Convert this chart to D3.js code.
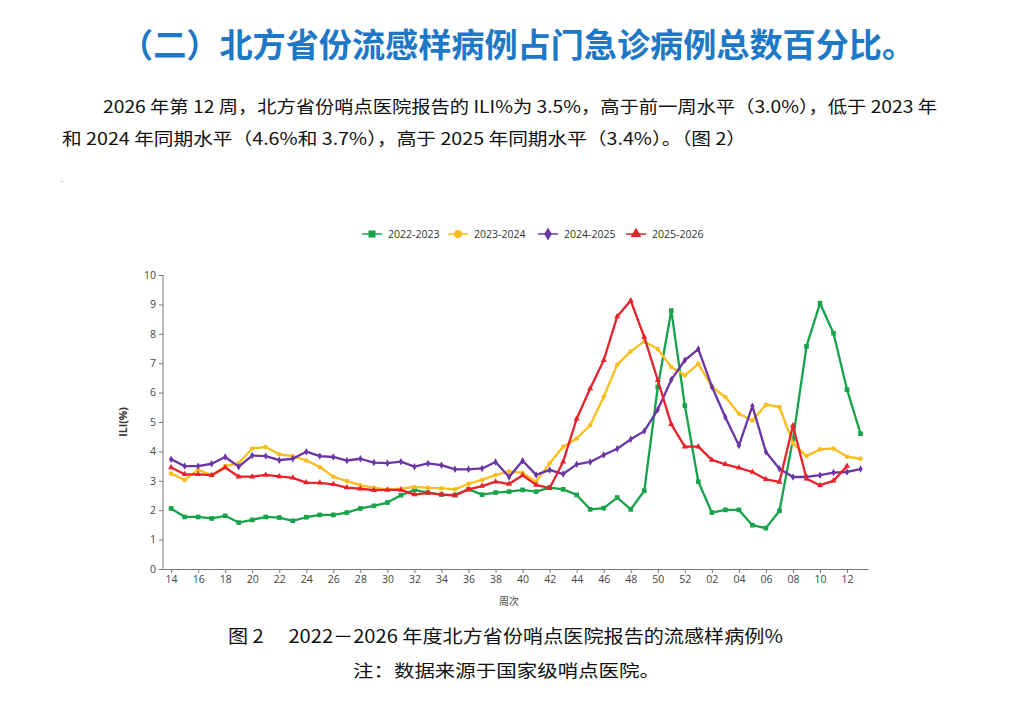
<!DOCTYPE html>
<html>
<head>
<meta charset="utf-8">
<script src="https://cdn.jsdelivr.net/npm/d3@7"></script>
<style>
  body { margin: 0; background: #fff; }
  svg text { font-family: "Noto Sans CJK SC", "Noto Sans", sans-serif; }
</style>
</head>
<body>
<div class="container"></div>
<script>
var weeks = ["14","15","16","17","18","19","20","21","22","23","24","25","26","27","28","29","30","31","32","33",
  "34","35","36","37","38","39","40","41","42","43","44","45","46","47","48","49","50","51","52",
  "01","02","03","04","05","06","07","08","09","10","11","12","13"];

var s2223 = [2.06,1.77,1.77,1.72,1.81,1.58,1.67,1.77,1.75,1.64,1.76,1.84,1.84,1.92,2.06,2.15,2.26,2.51,2.69,2.6,
  2.53,2.52,2.71,2.53,2.6,2.63,2.69,2.63,2.77,2.71,2.52,2.03,2.07,2.43,2.03,2.66,6.19,8.79,5.56,
  2.97,1.92,2.01,2.01,1.49,1.39,1.98,4.41,7.57,9.04,8.02,6.1,4.6];
var s2324 = [3.25,3.03,3.37,3.19,3.5,3.6,4.1,4.15,3.9,3.84,3.69,3.47,3.14,2.99,2.85,2.76,2.71,2.73,2.79,2.76,
  2.75,2.71,2.9,3.03,3.2,3.32,3.27,2.97,3.6,4.16,4.44,4.89,5.85,6.95,7.4,7.74,7.48,6.87,6.59,
  6.98,6.19,5.85,5.28,5.05,5.59,5.51,4.27,3.84,4.07,4.1,3.82,3.75];
var s2425 = [3.73,3.5,3.5,3.58,3.81,3.48,3.86,3.84,3.7,3.75,3.99,3.84,3.81,3.69,3.75,3.62,3.6,3.65,3.48,3.59,
  3.53,3.39,3.39,3.42,3.64,3.13,3.68,3.2,3.37,3.23,3.56,3.64,3.88,4.09,4.41,4.69,5.42,6.44,7.1,
  7.48,6.21,5.16,4.2,5.54,3.98,3.41,3.13,3.13,3.19,3.28,3.3,3.4];
var s2526 = [3.45,3.22,3.22,3.19,3.45,3.14,3.14,3.2,3.15,3.1,2.94,2.93,2.88,2.77,2.73,2.68,2.69,2.69,2.53,2.59,
  2.53,2.5,2.71,2.82,2.97,2.89,3.19,2.86,2.75,3.65,5.11,6.14,7.1,8.59,9.13,7.89,6.42,4.92,4.16,
  4.16,3.71,3.56,3.44,3.3,3.05,2.96,4.88,3.07,2.85,3.0,3.5,null];

var seriesNames = ["2022-2023","2023-2024","2024-2025","2025-2026"];
var seriesColors = ["#17a34a","#fbbd1c","#6b35a6","#e8212b"];
var seriesSymbols = [d3.symbolSquare, d3.symbolCircle, d3.symbolDiamond, d3.symbolTriangle];
var seriesValues = [s2223, s2324, s2425, s2526];

var yTicks = [0,1,2,3,4,5,6,7,8,9,10];

var svg = d3.select(".container").append("svg")
  .attr("width", 1016).attr("height", 706);

// heading + paragraph
svg.append("text")
  .attr("x", 120).attr("y", 57)
  .attr("textLength", 795).attr("lengthAdjust", "spacingAndGlyphs")
  .style("font-size", "33px").style("font-weight", "bold").style("fill", "#1e78c8")
  .text("（二）北方省份流感样病例占门急诊病例总数百分比。");

svg.append("text")
  .attr("x", 103).attr("y", 113)
  .attr("textLength", 834).attr("lengthAdjust", "spacingAndGlyphs")
  .style("font-size", "17px").style("fill", "#111")
  .text("2026 年第 12 周，北方省份哨点医院报告的 ILI%为 3.5%，高于前一周水平（3.0%），低于 2023 年");

svg.append("text")
  .attr("x", 62).attr("y", 145)
  .attr("textLength", 684).attr("lengthAdjust", "spacingAndGlyphs")
  .style("font-size", "17px").style("fill", "#111")
  .text("和 2024 年同期水平（4.6%和 3.7%），高于 2025 年同期水平（3.4%）。（图 2）");

svg.append("text").attr("x", 61).attr("y", 182).style("font-size", "8px").style("fill", "#555").text(".");

// chart
var margin = {top: 275, left: 163},
  width = 868 - 163,
  height = 569 - 275;

var g = svg.append("g").attr("transform", "translate(" + margin.left + "," + margin.top + ")");

var x = d3.scaleLinear().domain([-0.6, 51.55]).range([0, width]);
var y = d3.scaleLinear().domain([0, 10]).range([height, 0]);

var yAxis = g.append("g")
  .call(d3.axisLeft(y).tickValues(yTicks).tickSize(4).tickPadding(3));
var evenIdx = weeks.map((w, i) => i).filter(i => (+weeks[i]) % 2 === 0);
var xAxis = g.append("g")
  .attr("transform", "translate(0," + height + ")")
  .call(d3.axisBottom(x).tickValues(evenIdx).tickFormat(i => weeks[i]).tickSize(4).tickPadding(3).tickSizeOuter(0));

[xAxis, yAxis].forEach(a => {
  a.select(".domain").attr("stroke", "#777");
  a.selectAll(".tick line").attr("stroke", "#777");
  a.selectAll("text").style("font-size", "10.5px").style("fill", "#444")
    .style("font-family", "'Open Sans', 'Noto Sans', sans-serif");
});
yAxis.select(".domain").attr("d", "M0," + height + "V0");

g.append("text")
  .attr("transform", "translate(-36," + (height / 2) + ")rotate(-90)")
  .attr("text-anchor", "middle")
  .style("font-size", "10.5px").style("fill", "#333").style("font-weight", "bold")
  .style("font-family", "'Open Sans', 'Noto Sans', sans-serif")
  .text("ILI(%)");

g.append("text")
  .attr("x", x(25)).attr("y", height + 36)
  .attr("text-anchor", "middle")
  .style("font-size", "10px").style("fill", "#444")
  .text("周次");

var line = d3.line()
  .defined(d => d != null)
  .x((d, i) => x(i))
  .y(d => y(d));

seriesValues.forEach(function(vals, k) {
  g.append("path")
    .datum(vals)
    .attr("fill", "none")
    .attr("stroke", seriesColors[k])
    .attr("stroke-width", 2.3)
    .attr("stroke-linejoin", "round")
    .attr("d", line);

  g.selectAll(".pt" + k)
    .data(vals.map((v, i) => ({v: v, i: i})).filter(d => d.v != null))
    .enter()
    .append("path")
    .attr("class", "pt" + k)
    .attr("transform", d => "translate(" + x(d.i) + "," + y(d.v) + ")")
    .attr("d", d3.symbol().type(seriesSymbols[k]).size(k === 0 ? 22 : 16))
    .attr("fill", seriesColors[k]);
});

// legend
var legendX = [362, 448, 538, 626];
var legend = svg.append("g");
seriesNames.forEach(function(name, k) {
  var lg = legend.append("g").attr("transform", "translate(" + legendX[k] + ",234)");
  lg.append("line").attr("x1", 0).attr("x2", 20).attr("y1", 0).attr("y2", 0)
    .attr("stroke", seriesColors[k]).attr("stroke-width", 1.5);
  lg.append("path").attr("transform", "translate(10,0)")
    .attr("d", d3.symbol().type(seriesSymbols[k]).size(50))
    .attr("fill", seriesColors[k]);
  lg.append("text").attr("x", 26).attr("y", 3.8)
    .style("font-size", "10.5px").style("fill", "#333")
    .style("font-family", "'Open Sans', 'Noto Sans', sans-serif")
    .text(name);
});

// caption
svg.append("text")
  .attr("x", 228).attr("y", 643)
  .attr("textLength", 555).attr("lengthAdjust", "spacingAndGlyphs")
  .style("font-size", "18px").style("fill", "#111")
  .text("图 2　 2022－2026 年度北方省份哨点医院报告的流感样病例%");

svg.append("text")
  .attr("x", 353).attr("y", 677)
  .attr("textLength", 307).attr("lengthAdjust", "spacingAndGlyphs")
  .style("font-size", "17px").style("fill", "#111")
  .text("注：数据来源于国家级哨点医院。");
</script>
</body>
</html>
